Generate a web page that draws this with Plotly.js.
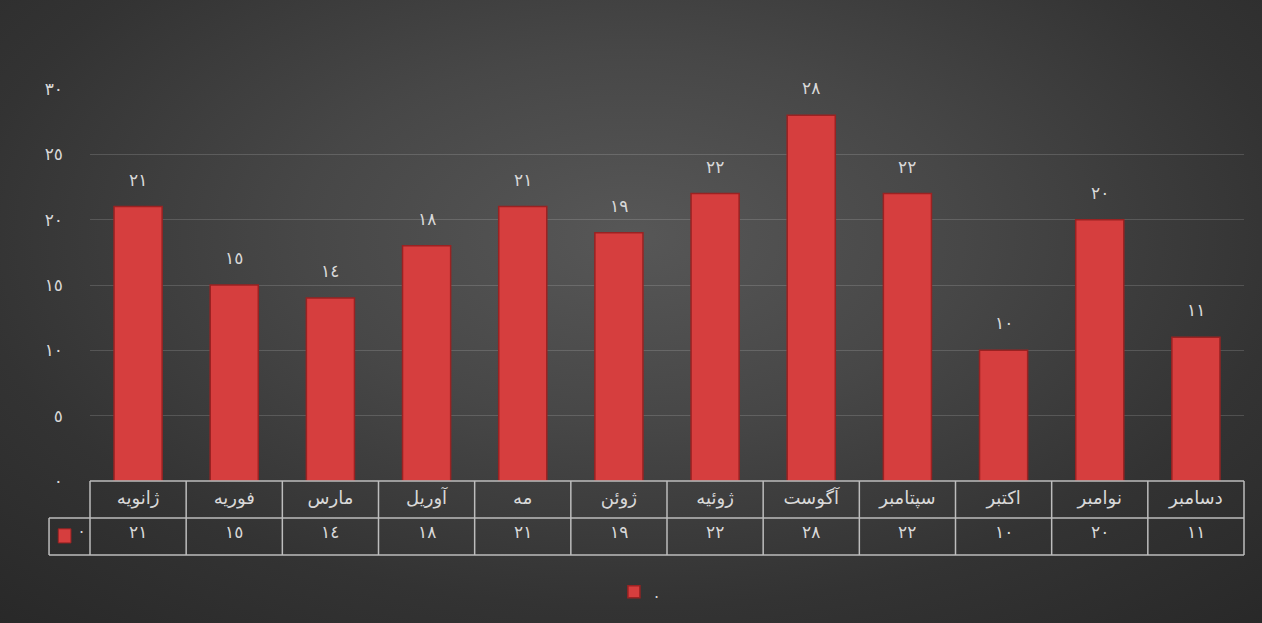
<!DOCTYPE html>
<html>
<head>
<meta charset="utf-8">
<script src="https://cdn.plot.ly/plotly-3.0.1.min.js"></script>
<style>
  html, body { margin: 0; padding: 0; }
  body {
    width: 1262px; height: 623px; overflow: hidden;
    background: radial-gradient(ellipse 75% 85% at 50% 38%, #575757 0%, #474747 35%, #333333 70%, #282828 100%);
  }
  #chart { width: 1262px; height: 623px; }
</style>
</head>
<body>
<div id="chart"></div>
<script>
// ---- data ----
const months = ['ژانویه', 'فوریه', 'مارس', 'آوریل', 'مه', 'ژوئن', 'ژوئیه', 'آگوست', 'سپتامبر', 'اکتبر', 'نوامبر', 'دسامبر'];
const values = [21, 15, 14, 18, 21, 19, 22, 28, 22, 10, 20, 11];
const seriesName = '.';
const yTickVals = [0, 5, 10, 15, 20, 25, 30];

// number formatting with Arabic-Indic digits
const arDigits = ['٠','١','٢','٣','٤','٥','٦','٧','٨','٩'];
function toAr(n) { return String(n).replace(/[0-9]/g, d => arDigits[+d]); }
const yTickText = yTickVals.map(toAr);
const valueLabels = values.map(toAr);

// ---- style ----
const textColor = '#d9d9d9';
const barColor = '#d63e3e';
const barLine = '#9a2222';
const tableLine = '#bdbdbd';
const font = 'DejaVu Sans, Arial, sans-serif';

// geometry (paper fractions)
const row1Bottom = -0.0944;
const row2Bottom = -0.1888;
const keyLeft = -0.0355;
const valueRowY = -0.1416;

const shapes = [];
const n = months.length;
shapes.push({type: 'line', xref: 'paper', yref: 'paper', x0: 0, x1: 1, y0: 0, y1: 0, line: {color: tableLine, width: 1.5}});
shapes.push({type: 'line', xref: 'paper', yref: 'paper', x0: keyLeft, x1: 1, y0: row1Bottom, y1: row1Bottom, line: {color: tableLine, width: 1.5}});
shapes.push({type: 'line', xref: 'paper', yref: 'paper', x0: keyLeft, x1: 1, y0: row2Bottom, y1: row2Bottom, line: {color: tableLine, width: 1.5}});
for (let i = 0; i <= n; i++) {
  shapes.push({type: 'line', xref: 'paper', yref: 'paper', x0: i / n, x1: i / n, y0: 0, y1: row2Bottom, line: {color: tableLine, width: 1.5}});
}
shapes.push({type: 'line', xref: 'paper', yref: 'paper', x0: keyLeft, x1: keyLeft, y0: row1Bottom, y1: row2Bottom, line: {color: tableLine, width: 1.5}});
// legend key inside table
shapes.push({type: 'rect', xref: 'paper', yref: 'paper', x0: -0.0275, x1: -0.0165, y0: -0.122, y1: -0.158,
  fillcolor: barColor, line: {color: barLine, width: 1}});

const annotations = [];
months.forEach((m, i) => {
  annotations.push({x: m, y: values[i], xref: 'x', yref: 'y', text: valueLabels[i], showarrow: false,
    yshift: 27, font: {family: font, size: 17, color: textColor}});
  annotations.push({x: m, y: valueRowY, xref: 'x', yref: 'paper', text: valueLabels[i], showarrow: false,
    yshift: -7, font: {family: font, size: 17, color: textColor}});
});
annotations.push({x: -0.011, y: valueRowY, yshift: -2, xref: 'paper', yref: 'paper', text: seriesName, showarrow: false,
  font: {family: font, size: 16, color: textColor}});

const trace = {
  type: 'bar',
  x: months,
  y: values,
  name: seriesName,
  width: 0.5,
  marker: {color: barColor, line: {color: barLine, width: 1.5}},
  hoverinfo: 'x+y'
};

const layout = {
  width: 1262, height: 623,
  margin: {l: 90, r: 18, t: 89, b: 142},
  paper_bgcolor: 'rgba(0,0,0,0)',
  plot_bgcolor: 'rgba(0,0,0,0)',
  font: {family: font, color: textColor},
  showlegend: true,
  legend: {orientation: 'h', x: 0.454, xanchor: 'left', y: -0.283, yanchor: 'middle',
    font: {family: font, size: 16, color: textColor}, bgcolor: 'rgba(0,0,0,0)'},
  xaxis: {
    type: 'category', showgrid: false, zeroline: false, showline: false, ticks: '',
    tickfont: {family: font, size: 18, color: textColor}, ticklabelstandoff: 4, automargin: false
  },
  yaxis: {
    range: [0, 30], tickvals: yTickVals, ticktext: yTickText, showgrid: true,
    gridcolor: 'rgba(255,255,255,0.15)', gridwidth: 1, zeroline: false, showline: false, ticks: '',
    tickfont: {family: font, size: 17, color: textColor}, ticklabelstandoff: 26, automargin: false
  },
  shapes: shapes,
  annotations: annotations
};

Plotly.newPlot('chart', [trace], layout, {displayModeBar: false});
</script>
</body>
</html>
